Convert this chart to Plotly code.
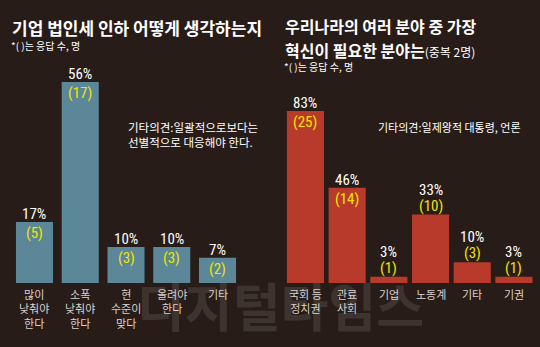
import plotly.graph_objects as go

W, H = 540, 347

# ---- data -------------------------------------------------------------
left_cats = ["많이 낮춰야 한다", "소폭 낮춰야 한다", "현 수준이 맞다", "올려야 한다", "기타"]
left_ticks = ["많이<br>낮춰야<br>한다", "소폭<br>낮춰야<br>한다", "현<br>수준이<br>맞다", "올려야<br>한다", "기타"]
left_pct = [17, 56, 10, 10, 7]
left_cnt = [5, 17, 3, 3, 2]

right_cats = ["국회 등 정치권", "관료 사회", "기업", "노동계", "기타", "기권"]
right_ticks = ["국회 등<br>정치권", "관료<br>사회", "기업", "노동계", "기타", "기권"]
right_pct = [83, 46, 3, 33, 10, 3]
right_cnt = [25, 14, 1, 10, 3, 1]

# ---- styling ------------------------------------------------------------
BG = "#281c18"
BLUE = "#5b8798"
RED = "#b73a2b"
YELLOW = "#f2e500"
WHITE = "#ffffff"
LABEL = "#d9d2cd"
KR = "Noto Sans CJK KR"
NUM = "Liberation Sans Narrow, Roboto Condensed, Noto Sans CJK KR"


def px(x):
    return x / W


def py(y):
    return (H - y) / H


BASE = 283  # baseline pixel row

fig = go.Figure()

panels = [
    dict(cats=left_cats, ticks=left_ticks, pct=left_pct, cnt=left_cnt, color=BLUE,
         xa="x", ya="y", width=0.81, inside_min=0),
    dict(cats=right_cats, ticks=right_ticks, pct=right_pct, cnt=right_cnt, color=RED,
         xa="x2", ya="y2", width=0.89, inside_min=40),
]

annotations = [
    # faint masthead watermark, drawn first so the chart text sits on top
    dict(x=px(280), y=py(304), xref="paper", yref="paper", xanchor="center", yanchor="middle",
         text="<b>디지털타임스</b>", showarrow=False,
         font=dict(family=KR, size=52, color="rgba(255,255,255,0.10)")),
]
for p in panels:
    fig.add_trace(go.Bar(
        x=p["cats"], y=p["pct"], width=p["width"],
        marker=dict(color=p["color"], line=dict(width=0)),
        xaxis=p["xa"], yaxis=p["ya"], hoverinfo="skip", showlegend=False,
    ))
    for c, t, v, n in zip(p["cats"], p["ticks"], p["pct"], p["cnt"]):
        inside = v >= p["inside_min"]
        pct_shift = 8 if inside else 25
        cnt_shift = -11 if inside else 9
        annotations.append(dict(
            x=c, y=v, xref=p["xa"], yref=p["ya"], text=f"{v}%", showarrow=False,
            yanchor="middle", yshift=pct_shift,
            font=dict(family=NUM, size=15, color=WHITE)))
        annotations.append(dict(
            x=c, y=v, xref=p["xa"], yref=p["ya"], text=f"({n})", showarrow=False,
            yanchor="middle", yshift=cnt_shift,
            font=dict(family=NUM, size=15, color=YELLOW)))
        annotations.append(dict(
            x=c, y=0, xref=p["xa"], yref=p["ya"], text=t, showarrow=False,
            yanchor="top", yshift=-1,
            font=dict(family=KR, size=11, color=LABEL)))

# titles and notes
annotations += [
    dict(x=px(10), y=py(28), xref="paper", yref="paper", xanchor="left", yanchor="middle",
         text="<b>기업 법인세 인하 어떻게 생각하는지</b>", showarrow=False,
         font=dict(family=KR, size=17, color=WHITE)),
    dict(x=px(9), y=py(45), xref="paper", yref="paper", xanchor="left", yanchor="middle",
         text="*( )는 응답 수, 명", showarrow=False,
         font=dict(family=KR, size=10, color=WHITE)),
    dict(x=px(283), y=py(26), xref="paper", yref="paper", xanchor="left", yanchor="middle",
         text="<b>우리나라의 여러 분야 중 가장</b>", showarrow=False,
         font=dict(family=KR, size=16, color=WHITE)),
    dict(x=px(283), y=py(50), xref="paper", yref="paper", xanchor="left", yanchor="middle",
         text="<b>혁신이 필요한 분야는</b><span style='font-size:12px'>(중복 2명)</span>",
         showarrow=False, font=dict(family=KR, size=16, color=WHITE)),
    dict(x=px(282), y=py(66), xref="paper", yref="paper", xanchor="left", yanchor="middle",
         text="*( )는 응답 수, 명", showarrow=False,
         font=dict(family=KR, size=10, color=WHITE)),
    dict(x=px(126), y=py(134), xref="paper", yref="paper", xanchor="left", yanchor="middle",
         text="기타의견:일괄적으로보다는<br>선별적으로 대응해야 한다.", showarrow=False, align="left",
         font=dict(family=KR, size=11.5, color=WHITE)),
    dict(x=px(376), y=py(127), xref="paper", yref="paper", xanchor="left", yanchor="middle",
         text="기타의견:일제왕적 대통령, 언론", showarrow=False,
         font=dict(family=KR, size=11, color=WHITE)),
]

axis_common = dict(showgrid=False, zeroline=False, showticklabels=False, showline=False,
                   ticks="", fixedrange=True)

fig.update_layout(
    width=W, height=H,
    margin=dict(l=0, r=0, t=0, b=0),
    paper_bgcolor=BG, plot_bgcolor=BG,
    xaxis=dict(domain=[px(11.6), px(240.4)], type="category", **axis_common),
    yaxis=dict(domain=[py(BASE), py(82)], range=[0, 56], **axis_common),
    xaxis2=dict(domain=[px(284.6), px(534.8)], type="category", anchor="y2", **axis_common),
    yaxis2=dict(domain=[py(BASE), py(111)], range=[0, 83], anchor="x2", **axis_common),
    annotations=annotations,
)

fig.write_html("out.html")
